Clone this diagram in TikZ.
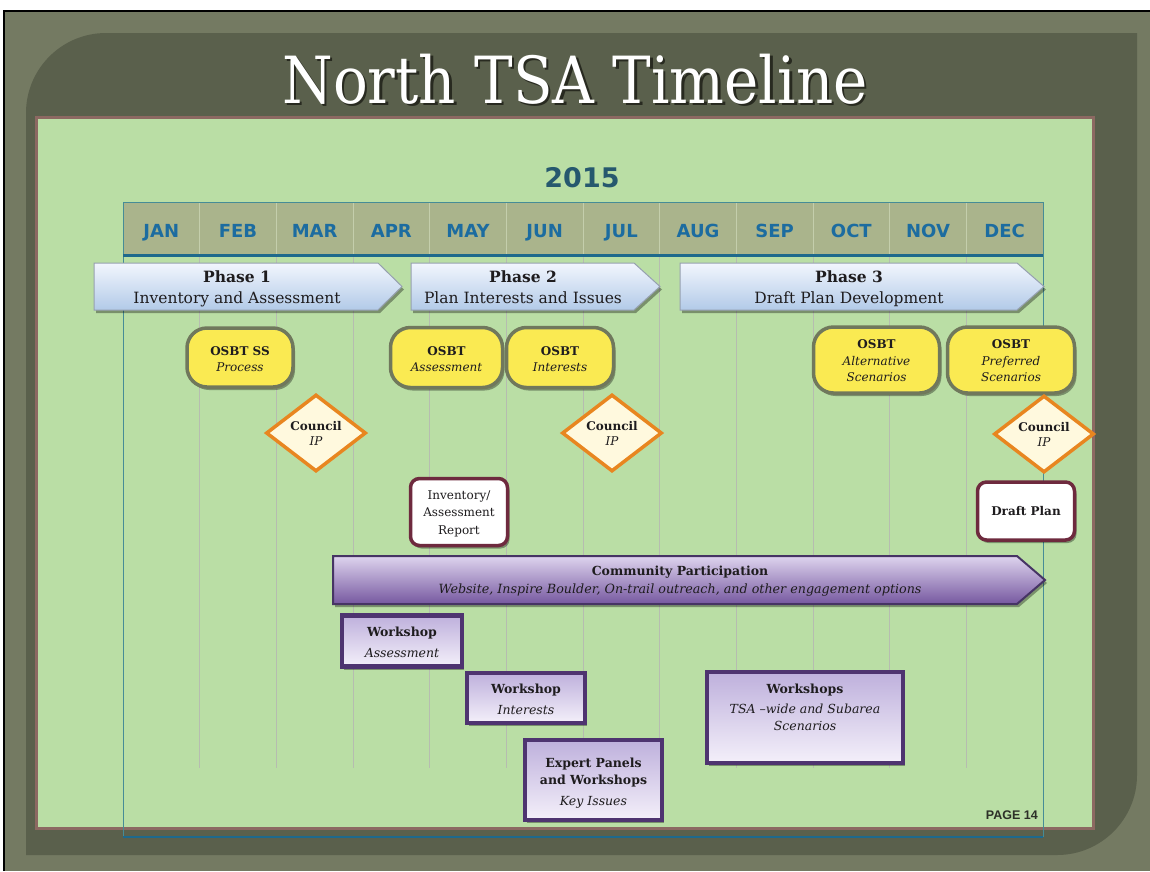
\documentclass[tikz,border=0pt]{standalone}
\usepackage{fontspec}
\setmainfont{DejaVu Serif}
\newfontfamily\titlefont[FakeStretch=0.89]{DejaVu Serif}
\newfontfamily\monthfont{DejaVu Sans}
\newfontfamily\pagefont{Liberation Sans}
\usetikzlibrary{shapes.geometric,shadows}
\definecolor{outerbg}{RGB}{116,122,98}
\definecolor{darkpanel}{RGB}{90,96,76}
\definecolor{panelborder}{RGB}{140,105,98}
\definecolor{panelgreen}{RGB}{186,222,165}
\definecolor{headfill}{RGB}{170,180,140}
\definecolor{headdiv}{RGB}{196,206,172}
\definecolor{monthblue}{RGB}{28,108,160}
\definecolor{yearcol}{RGB}{38,88,110}
\definecolor{blueline}{RGB}{30,105,140}
\definecolor{tealline}{RGB}{70,140,150}
\definecolor{gridgray}{RGB}{182,188,176}
\definecolor{phasetop}{RGB}{242,246,253}
\definecolor{phasebot}{RGB}{178,202,232}
\definecolor{phaseborder}{RGB}{150,160,175}
\definecolor{osbtyellow}{RGB}{250,234,82}
\definecolor{osbtborder}{RGB}{112,120,92}
\definecolor{councilorange}{RGB}{232,134,32}
\definecolor{cream}{RGB}{255,249,222}
\definecolor{maroon}{RGB}{110,42,62}
\definecolor{commtop}{RGB}{222,212,238}
\definecolor{commmid}{RGB}{238,232,246}
\definecolor{commbot}{RGB}{118,88,160}
\definecolor{commborder}{RGB}{70,52,100}
\definecolor{wsborder}{RGB}{78,52,112}
\definecolor{wstop}{RGB}{190,176,220}
\definecolor{wsbot}{RGB}{244,240,250}
\definecolor{textdark}{RGB}{30,28,30}
\definecolor{pagecol}{RGB}{45,48,40}
\definecolor{titleshade}{RGB}{40,42,32}
\newcommand{\tallstrut}[1]{\rule{0pt}{#1}}
\tikzset{
  sh/.style={drop shadow={shadow xshift=2pt,shadow yshift=-3pt,opacity=0.35,fill=black}},
  month/.style={font=\monthfont\bfseries\fontsize{18}{20}\selectfont,text=monthblue,inner sep=0pt,anchor=base},
  phasearrow/.style={top color=phasetop,bottom color=phasebot,draw=phaseborder,line width=1pt,sh},
  phasetext/.style={align=center,text=textdark,inner sep=0pt,font=\fontsize{15.5}{21}\selectfont},
  osbt/.style={draw=osbtborder,line width=3.5pt,fill=osbtyellow,rounded corners=20pt,align=center,inner sep=0pt,text=textdark,font=\fontsize{12}{16.5}\selectfont,sh},
  council/.style={diamond,shape aspect=1.3,draw=councilorange,line width=3.5pt,fill=cream,minimum width=100pt,minimum height=77pt,inner sep=0pt,align=center,text=textdark,font=\fontsize{12}{15}\selectfont},
  report/.style={draw=maroon,line width=3.5pt,fill=white,rounded corners=9pt,align=center,inner sep=0pt,text=textdark,font=\fontsize{12}{17.5}\selectfont,sh},
  commarrow/.style={top color=commtop,middle color=commmid,bottom color=commbot,draw=commborder,line width=2pt,sh},
  ws/.style={draw=wsborder,line width=4.5pt,top color=wstop,bottom color=wsbot,align=center,inner sep=0pt,text=textdark,font=\fontsize{12.5}{17}\selectfont,sh}
}
\begin{document}
\begin{tikzpicture}[x=1pt,y=-1pt]
\useasboundingbox (0,0) rectangle (1150,871);
% backgrounds
\fill[white] (0,0) rectangle (1150,871);
\fill[outerbg] (4,11) rectangle (1150,871);
\draw[black,line width=1.5pt] (4,871) -- (4,11) -- (1150,11);
\fill[darkpanel] (26,855) -- (26,113) arc[start angle=180,end angle=90,radius=80pt] -- (1137,33) -- (1137,775) arc[start angle=0,end angle=-90,radius=80pt] -- cycle;
% title
\node[font=\titlefont\fontsize{65}{70}\selectfont,text=titleshade,inner sep=0pt] (titleshadow) at (577.5,81.5) {North TSA Timeline};
\node[font=\titlefont\fontsize{65}{70}\selectfont,text=white,inner sep=0pt] (title) at (575,79) {North TSA Timeline};
% green panel
\draw[draw=panelborder,line width=3pt,fill=panelgreen] (36,117) rectangle (1093,828);
% year
\node[font=\monthfont\bfseries\fontsize{27}{30}\selectfont,text=yearcol,inner sep=0pt] (year) at (582,178) {2015};
% header
\fill[headfill] (123,202) rectangle (1043,255);
\foreach \i in {1,...,11} {
  \draw[headdiv,line width=1pt] ({123+76.667*\i},203) -- ({123+76.667*\i},254);
  \draw[gridgray,line width=1pt] ({123+76.667*\i},257) -- ({123+76.667*\i},768);
}
\draw[tealline,line width=1pt] (123,837) -- (123,202) -- (1043,202) -- (1043,837);
\draw[blueline,line width=2pt] (123,837) -- (1043,837);
\draw[blueline,line width=3pt] (123,255) -- (1043,255);
\foreach \m [count=\i] in {JAN,FEB,MAR,APR,MAY,JUN,JUL,AUG,SEP,OCT,NOV,DEC}
  \node[month] (m\i) at ({123+76.667*(\i-0.5)},237) {\m};
% phases
\path[phasearrow] (94,263) -- (378,263) -- (402,286.5) -- (378,310) -- (94,310) -- cycle;
\node[phasetext] (ph1) at (237,289) {\strut{\bfseries Phase 1}\\\strut Inventory and Assessment};
\path[phasearrow] (411,263) -- (634,263) -- (660,286.5) -- (634,310) -- (411,310) -- cycle;
\node[phasetext] (ph2) at (523,289) {\strut{\bfseries Phase 2}\\\strut Plan Interests and Issues};
\path[phasearrow] (680,263) -- (1017,263) -- (1044,286.5) -- (1017,310) -- (680,310) -- cycle;
\node[phasetext] (ph3) at (849,289) {\strut{\bfseries Phase 3}\\\strut Draft Plan Development};
% OSBT
\node[osbt,minimum width=106pt,minimum height=59pt] (o1) at (240,357.5) {\tallstrut{17pt}\textbf{OSBT SS}\\\strut\textit{Process}};
\node[osbt,minimum width=112pt,minimum height=60pt] (o2) at (446.5,357.5) {\tallstrut{17pt}\textbf{OSBT}\\\strut\textit{Assessment}};
\node[osbt,minimum width=107pt,minimum height=60pt] (o3) at (560,357.5) {\tallstrut{17pt}\textbf{OSBT}\\\strut\textit{Interests}};
\node[osbt,minimum width=126pt,minimum height=66pt] (o4) at (876.5,360) {\tallstrut{15pt}\textbf{OSBT}\\\strut\textit{Alternative}\\\strut\textit{Scenarios}};
\node[osbt,minimum width=127pt,minimum height=66pt] (o5) at (1011,360) {\tallstrut{15pt}\textbf{OSBT}\\\strut\textit{Preferred}\\\strut\textit{Scenarios}};
% council
\node[council] (c1) at (316,433) {\tallstrut{14.5pt}\textbf{Council}\\\strut\textit{IP}};
\node[council] (c2) at (612,433) {\tallstrut{14.5pt}\textbf{Council}\\\strut\textit{IP}};
\node[council] (c3) at (1044,434) {\tallstrut{14.5pt}\textbf{Council}\\\strut\textit{IP}};
% reports
\node[report,minimum width=97pt,minimum height=67pt] (r1) at (459,512) {\tallstrut{14.5pt}Inventory/\\\strut Assessment\\\strut Report};
\node[report,minimum width=97pt,minimum height=58pt] (r2) at (1026,511) {\textbf{Draft Plan}};
% community
\path[commarrow] (333,556) -- (1017,556) -- (1045,580) -- (1017,604) -- (333,604) -- cycle;
\node[align=center,inner sep=0pt,text=textdark,font=\fontsize{12.5}{18}\selectfont] (comm) at (680,581) {\strut\textbf{Community Participation}\\\strut\textit{\fontsize{12.7}{18}\selectfont Website, Inspire Boulder, On-trail outreach, and other engagement options}};
% workshops
\node[ws,minimum width=120pt,minimum height=51pt] (w1) at (402,641) {\tallstrut{18pt}\textbf{Workshop}\\[4pt]\strut\textit{Assessment}};
\node[ws,minimum width=118pt,minimum height=50pt] (w2) at (526,698) {\tallstrut{18pt}\textbf{Workshop}\\[4pt]\strut\textit{Interests}};
\node[ws,minimum width=137pt,minimum height=80pt] (w3) at (593.5,780) {\tallstrut{18pt}\textbf{Expert Panels}\\\strut\textbf{and Workshops}\\[4pt]\strut\textit{Key Issues}};
\node[ws,minimum width=196pt,minimum height=91pt] (w4) at (805,717.5) {\strut\textbf{Workshops}\\[3pt]\strut\textit{TSA –wide and Subarea}\\\strut\textit{Scenarios}\\[1pt]\strut};
% page
\node[font=\pagefont\bfseries\fontsize{12.5}{14}\selectfont,text=pagecol,inner sep=0pt,anchor=east] (page) at (1038,815) {PAGE 14};
\end{tikzpicture}
\end{document}
